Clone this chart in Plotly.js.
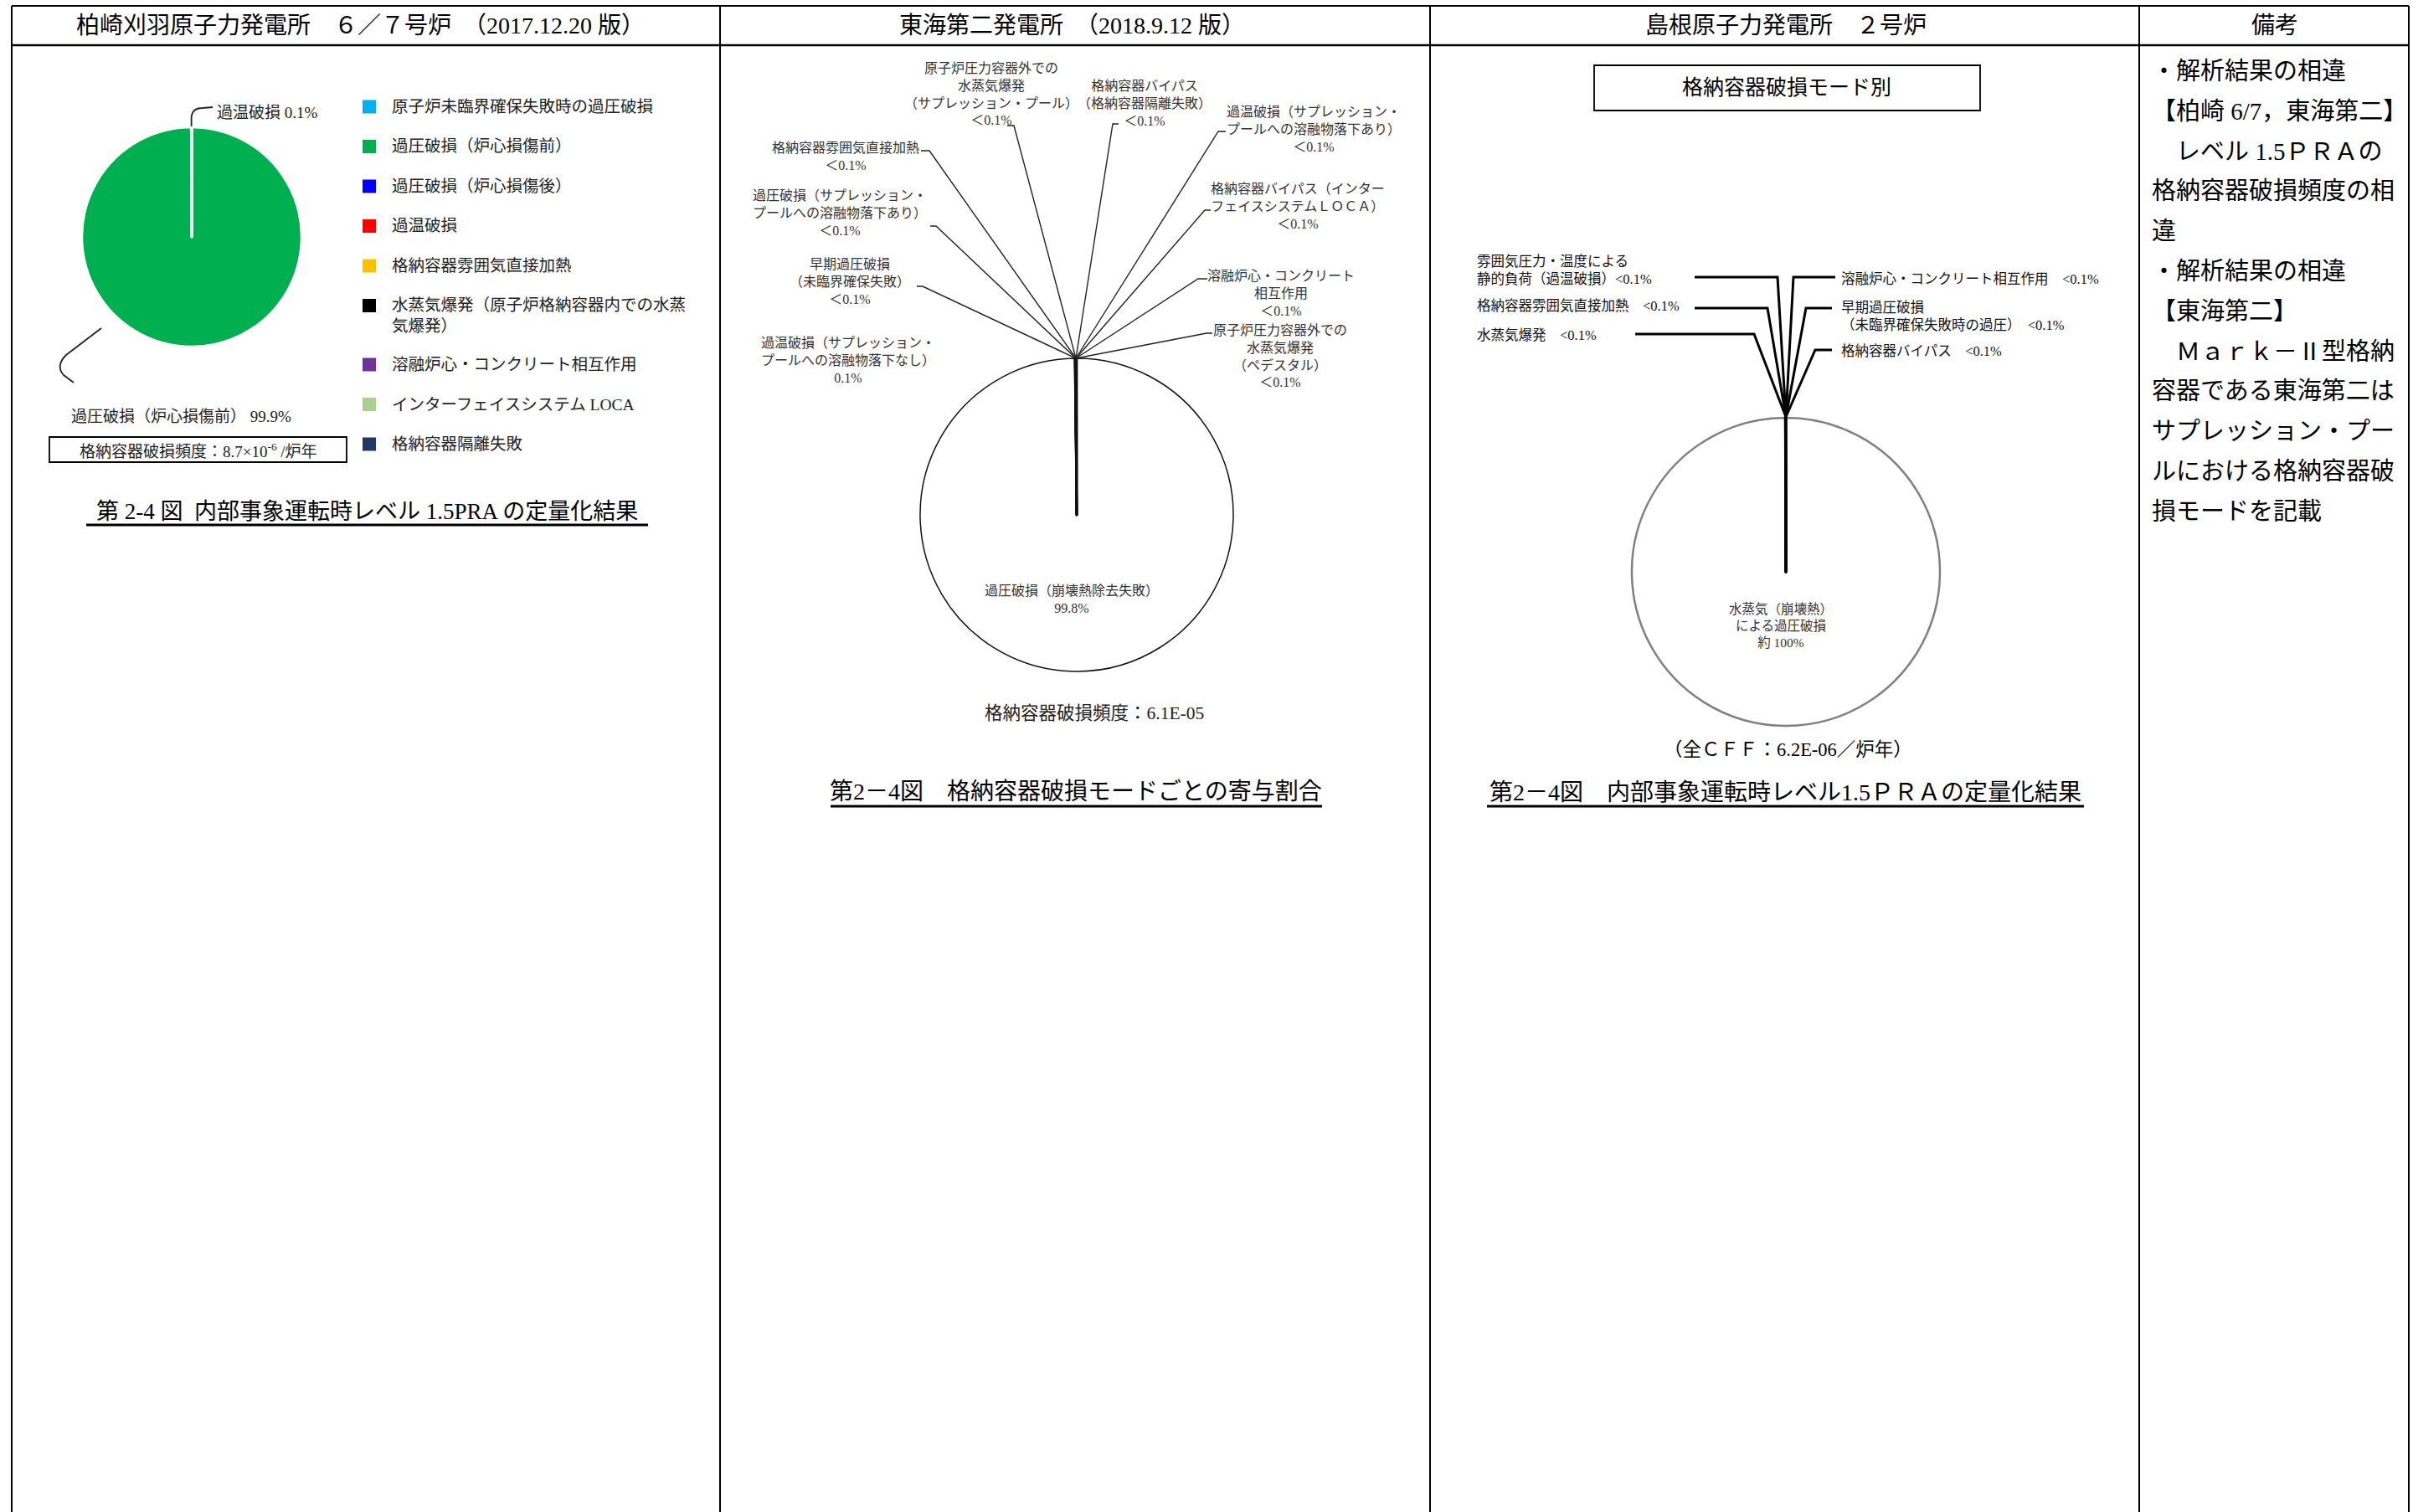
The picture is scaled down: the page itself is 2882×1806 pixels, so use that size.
<!DOCTYPE html>
<html lang="ja">
<head>
<meta charset="utf-8">
<title>第2-4図 格納容器破損モード比較</title>
<script src="https://cdn.plot.ly/plotly-3.0.1.min.js"></script>
<style>
  html, body { margin: 0; padding: 0; background: #fff; }
  #chart { width: 2882px; height: 1806px; }
</style>
</head>
<body>
<div id="chart"></div>
<script>
// ---- data ----
const colHeaders = [
    '柏崎刈羽原子力発電所　６／７号炉　（2017.12.20 版）',
    '東海第二発電所　（2018.9.12 版）',
    '島根原子力発電所　２号炉',
    '備考'
];

// 柏崎刈羽 6/7
const kkCategories = [
    '原子炉未臨界確保失敗時の過圧破損',
    '過圧破損（炉心損傷前）',
    '過圧破損（炉心損傷後）',
    '過温破損',
    '格納容器雰囲気直接加熱',
    '水蒸気爆発（原子炉格納容器内での水蒸<br>気爆発）',
    '溶融炉心・コンクリート相互作用',
    'インターフェイスシステム LOCA',
    '格納容器隔離失敗'
];
const kkValues = [0, 99.9, 0, 0.1, 0, 0, 0, 0, 0];
const kkColors = ['#00B0F0', '#00B050', '#0000FF', '#FF0000', '#FFC000', '#000000', '#7030A0', '#A9D18E', '#1F3864'];
const kkCff = '8.7×10<sup>-6</sup> /炉年';
const kkCaption = '第 2-4 図  内部事象運転時レベル 1.5PRA の定量化結果';

// 東海第二
const t2Labels = [
    '過圧破損（崩壊熱除去失敗）',
    '原子炉圧力容器外での<br>水蒸気爆発<br>（サプレッション・プール）',
    '格納容器バイパス<br>（格納容器隔離失敗）',
    '過温破損（サプレッション・<br>プールへの溶融物落下あり）',
    '格納容器バイパス（インター<br>フェイスシステムＬＯＣＡ）',
    '溶融炉心・コンクリート<br>相互作用',
    '原子炉圧力容器外での<br>水蒸気爆発<br>（ペデスタル）',
    '過温破損（サプレッション・<br>プールへの溶融物落下なし）',
    '早期過圧破損<br>（未臨界確保失敗）',
    '過圧破損（サプレッション・<br>プールへの溶融物落下あり）',
    '格納容器雰囲気直接加熱'
];
const t2Values = [99.8, 0.01, 0.01, 0.01, 0.01, 0.01, 0.01, 0.1, 0.01, 0.01, 0.01];
const t2ValueText = ['99.8%', '＜0.1%', '＜0.1%', '＜0.1%', '＜0.1%', '＜0.1%', '＜0.1%', '0.1%', '＜0.1%', '＜0.1%', '＜0.1%'];
const t2Cff = '6.1E-05';
const t2Caption = '第2－4図　格納容器破損モードごとの寄与割合';

// 島根 2号
const s2Labels = [
    '水蒸気（崩壊熱）<br>による過圧破損',
    '雰囲気圧力・温度による<br>静的負荷（過温破損）',
    '格納容器雰囲気直接加熱　',
    '水蒸気爆発　',
    '溶融炉心・コンクリート相互作用　',
    '早期過圧破損<br>（未臨界確保失敗時の過圧）　',
    '格納容器バイパス　'
];
const s2Values = [99.94, 0.01, 0.01, 0.01, 0.01, 0.01, 0.01];
const s2ValueText = ['約 100%', '<0.1%', '<0.1%', '<0.1%', '<0.1%', '<0.1%', '<0.1%'];
const s2Cff = '6.2E-06';
const s2BoxTitle = '格納容器破損モード別';
const s2Caption = '第2－4図　内部事象運転時レベル1.5ＰＲＡの定量化結果';

const remarks = [
    '・解析結果の相違',
    '【柏崎 6/7，東海第二】',
    '　レベル 1.5ＰＲＡの',
    '格納容器破損頻度の相',
    '違',
    '・解析結果の相違',
    '【東海第二】',
    '　Ｍａｒｋ－Ⅱ型格納',
    '容器である東海第二は',
    'サプレッション・プー',
    'ルにおける格納容器破',
    '損モードを記載'
];

// ---- helpers (pixel -> paper) ----
const W = 2882, H = 1806;
const FONT = '"Liberation Serif", "Noto Sans CJK JP", serif';

function px(x) { return x / W; }
function py(y) { return 1 - y / H; }

function note(text, x, y, size, color, extra) {
    return Object.assign({
        text: text, x: px(x), y: py(y), xref: 'paper', yref: 'paper',
        showarrow: false, xanchor: 'center', yanchor: 'middle', align: 'center',
        font: { family: FONT, size: size, color: color || '#000' }
    }, extra || {});
}

function line(x0, y0, x1, y1, width, color) {
    return {
        type: 'line', xref: 'paper', yref: 'paper',
        x0: px(x0), y0: py(y0), x1: px(x1), y1: py(y1),
        line: { color: color || '#000', width: width || 2 }
    };
}

function rect(x0, y0, x1, y1, width) {
    return {
        type: 'rect', xref: 'paper', yref: 'paper',
        x0: px(x0), y0: py(y0), x1: px(x1), y1: py(y1),
        line: { color: '#000', width: width || 1.5 }
    };
}

// cmds: [['M',x,y], ['L',x,y], ['Q',cx,cy,x,y]]
function path(cmds, width, color) {
    const d = cmds.map(c => {
        const pts = [];
        for (let i = 1; i < c.length; i += 2) pts.push(px(c[i]) + ',' + py(c[i + 1]));
        return c[0] + pts.join(' ');
    }).join(' ');
    return { type: 'path', xref: 'paper', yref: 'paper', path: d, line: { color: color || '#000', width: width || 1.5 } };
}

function pieDomain(cx, cy, r) {
    return { x: [px(cx - r), px(cx + r)], y: [py(cy + r), py(cy - r)] };
}

// ---- table grid ----
const shapes = [];
const annotations = [];
const colEdges = [14, 860, 1708, 2555, 2877];

shapes.push(line(colEdges[0], 7, colEdges[4], 7, 2));
shapes.push(line(colEdges[0], 54, colEdges[4], 54, 2.5));
colEdges.forEach(x => shapes.push(line(x, 7, x, H, 2)));

const headerX = [430, 1280, 2133, 2717];
colHeaders.forEach((t, i) => annotations.push(note(t, headerX[i], 31, 28)));

// ---- 柏崎刈羽 ----
const kkPie = {
    type: 'pie', labels: kkCategories, values: kkValues,
    sort: false, direction: 'clockwise', rotation: 0,
    marker: { colors: kkColors, line: { color: '#ffffff', width: 2.5 } },
    textinfo: 'none', textposition: 'none', hoverinfo: 'label+percent', showlegend: false,
    domain: pieDomain(229, 283, 131)
};

// legend drawn by hand so spacing follows the original sheet
let legendY = 127.5;
kkCategories.forEach((name, i) => {
    const extra = (name.match(/<br>/g) || []).length;
    shapes.push({
        type: 'rect', xref: 'paper', yref: 'paper',
        x0: px(433), x1: px(449), y0: py(legendY - 8), y1: py(legendY + 8),
        fillcolor: kkColors[i], line: { width: 0 }
    });
    annotations.push(note(name, 466, legendY + extra * 11.5, 19.5, '#222', { xanchor: 'left', align: 'left' }));
    legendY += 47.5 + extra * 23;
});

annotations.push(note(kkCategories[3] + ' ' + kkValues[3] + '%', 257, 135, 19, '#222', { xanchor: 'left' }));
annotations.push(note(kkCategories[1] + ' ' + kkValues[1] + '%', 83, 497, 19, '#222', { xanchor: 'left' }));
shapes.push(path([['M', 228.6, 151], ['L', 228.6, 141], ['Q', 229, 129, 242, 129], ['L', 254, 128]], 1.8, '#222'));
shapes.push(path([['M', 121, 392], ['L', 79, 424], ['Q', 66, 437, 76, 448], ['L', 88, 457]], 1.8, '#222'));

shapes.push(rect(59, 522, 414, 552, 1.8));
annotations.push(note('格納容器破損頻度：' + kkCff, 237, 538, 19, '#222'));

annotations.push(note(kkCaption, 438, 611, 27));
shapes.push(line(103, 627, 774, 627, 3));

// ---- 東海第二 ----
const t2Pie = {
    type: 'pie', labels: t2Labels, values: t2Values,
    sort: false, direction: 'clockwise', rotation: 0,
    marker: {
        colors: t2Values.map(() => '#ffffff'),
        line: { color: '#111', width: t2Values.map((v, i) => i === 0 ? 1.5 : 2.5) }
    },
    textinfo: 'none', textposition: 'none', hoverinfo: 'label+percent', showlegend: false,
    domain: pieDomain(1286, 615, 187)
};

// label centre [x, y] and leader [end x, end y, bend x]
const t2Fan = [1285, 428];
const t2LabelPos = [
    [1280, 716],
    [1184, 112], [1367, 123], [1569, 154], [1550, 247], [1530, 350],
    [1529, 425], [1013, 430], [1015, 337], [1003, 255], [1010, 187]
];
const t2Leaders = [
    null,
    [1203, 150, 1211], [1336, 148, 1329], [1464, 157, 1455], [1446, 251, 1439], [1442, 333, 1431],
    [1448, 398, 1441], null, [1095, 342, 1102], [1111, 270, 1118], [1100, 180, 1110]
];

t2Labels.forEach((name, i) => {
    const p = t2LabelPos[i];
    annotations.push(note(name + '<br>' + t2ValueText[i], p[0], p[1], 16, '#333'));
    const l = t2Leaders[i];
    if (l) shapes.push(path([['M', l[0], l[1]], ['L', l[2], l[1]], ['L', t2Fan[0], t2Fan[1]]], 1.4, '#222'));
});

annotations.push(note('格納容器破損頻度：' + t2Cff, 1307, 852, 21.5, '#222'));
annotations.push(note(t2Caption, 1285, 945, 28));
shapes.push(line(992, 963, 1579, 963, 3));

// ---- 島根 2号 ----
const s2Pie = {
    type: 'pie', labels: s2Labels, values: s2Values,
    sort: false, direction: 'clockwise', rotation: 0,
    marker: {
        colors: s2Values.map(() => '#ffffff'),
        line: {
            color: s2Values.map((v, i) => i === 0 ? '#808080' : '#000'),
            width: s2Values.map((v, i) => i === 0 ? 2.5 : 3)
        }
    },
    textinfo: 'none', textposition: 'none', hoverinfo: 'label+percent', showlegend: false,
    domain: pieDomain(2133, 683, 184)
};

shapes.push(rect(1904, 78, 2365, 132, 1.8));
annotations.push(note(s2BoxTitle, 2134, 105, 25));

const s2Fan = [2133, 498];
// [text x, text y, anchor, line end x, line y, bend x]
const s2LabelPos = [
    [2127, 747, 'center'],
    [1762, 323, 'left', 2024, 331, 2123],
    [1762, 365, 'left', 2024, 368, 2111],
    [1762, 400, 'left', 1953, 399, 2095],
    [2197, 333, 'left', 2192, 331, 2142],
    [2197, 378, 'left', 2188, 368, 2157],
    [2197, 420, 'left', 2188, 418, 2168]
];

s2Labels.forEach((name, i) => {
    const p = s2LabelPos[i];
    if (i === 0) {
        annotations.push(note(name + '<br>' + s2ValueText[i], p[0], p[1], 15.5, '#333'));
        return;
    }
    annotations.push(note(name + s2ValueText[i], p[0], p[1], 16.5, '#111', { xanchor: p[2], align: 'left' }));
    shapes.push(path([['M', p[3], p[4]], ['L', p[5], p[4]], ['L', s2Fan[0], s2Fan[1]]], 3, '#000'));
});

annotations.push(note('（全ＣＦＦ：' + s2Cff + '／炉年）', 2135, 895, 22.5));
annotations.push(note(s2Caption, 2132, 946, 28));
shapes.push(line(1776, 963, 2489, 963, 3));

// ---- 備考 ----
remarks.forEach((t, i) => {
    annotations.push(note(t, 2568, 85 + i * 47.8, 29, '#000', { xanchor: 'left', align: 'left' }));
});

const layout = {
    width: W, height: H,
    margin: { l: 0, r: 0, t: 0, b: 0 },
    paper_bgcolor: '#ffffff',
    plot_bgcolor: '#ffffff',
    showlegend: false,
    shapes: shapes,
    annotations: annotations
};

Plotly.newPlot('chart', [kkPie, t2Pie, s2Pie], layout, { displayModeBar: false, staticPlot: true });
</script>
</body>
</html>
